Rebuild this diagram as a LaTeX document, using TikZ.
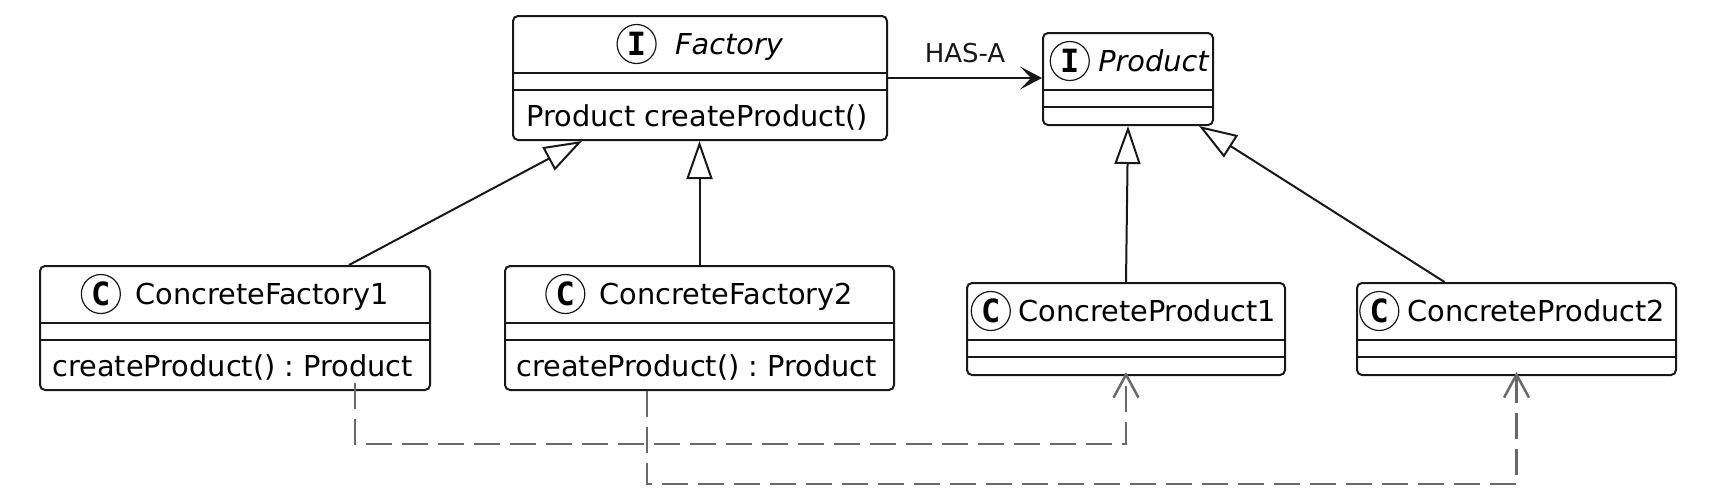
\documentclass[tikz,border=0pt]{standalone}
\usepackage{fontspec}
\setmainfont{DejaVu Sans}
\newfontfamily\spotfont{DejaVu Sans Mono}
\usepackage{tikz}
\usetikzlibrary{positioning,arrows.meta}
\definecolor{umlink}{RGB}{24,24,24}
\definecolor{depgray}{RGB}{105,105,105}
\frenchspacing

\begin{document}
\begin{tikzpicture}[x=0.5pt, y=-0.5pt,
  cls/.style={draw=umlink, line width=1pt, rounded corners=2.5pt, minimum width=#1, minimum height=62pt, inner sep=0pt, anchor=north west},
  cls/.default=195pt,
  slim/.style={cls=#1, minimum height=46pt}, slim/.default=159pt,
  cname/.style={inner sep=0pt, anchor=base, font=\fontsize{14.4}{17}\selectfont},
  iname/.style={cname, font=\fontsize{14.4}{17}\selectfont\itshape},
  spot/.style={circle, draw=umlink, line width=0.6pt, minimum size=19.5pt, inner sep=0pt, font=\spotfont\bfseries\fontsize{16}{16}\selectfont},
  meth/.style={inner sep=0pt, anchor=base west, font=\fontsize{14.4}{17}\selectfont},
  inh/.style={-{Triangle[open, length=19pt, width=13pt]}, line width=1pt, umlink},
  assoc/.style={-{Stealth[length=11pt, width=11.5pt, inset=5.5pt]}, line width=1pt, umlink},
  dep/.style={-{Straight Barb[length=11.5pt, width=12.5pt]}, line width=1.25pt, depgray, dash pattern=on 13pt off 5pt}]
  \useasboundingbox (0,0) rectangle (1723,500);
  % class boxes
  \node[cls=187pt] (factory) at (512,15) {};
  \node[slim=85pt] (product) at (1042,32) {};
  \node[cls] (cf1) at (39,265) {};
  \node[cls=194.5pt] (cf2) at (504,265) {};
  \node[slim] (cp1) at (966,282) {};
  \node[slim=159.5pt] (cp2) at (1356,282) {};
  \foreach \n in {factory, product, cf1, cf2, cp1, cp2} {
    \draw[line width=1pt, umlink] ([yshift=-29pt]\n.north west) -- ([yshift=-29pt]\n.north east);
    \draw[line width=1pt, umlink] ([yshift=-37.5pt]\n.north west) -- ([yshift=-37.5pt]\n.north east);
  }
  % headers
  \node[iname] (factory-name) at ([xshift=14.5pt, yshift=-19.5pt]factory.north) {Factory};
  \node[spot, left=9pt of factory-name.base west, yshift=5pt] (factory-spot) {I};
  \node[iname] (product-name) at ([xshift=12.75pt, yshift=-19.5pt]product.north) {Product};
  \node[spot, left=4pt of product-name.base west, yshift=5pt] (product-spot) {I};
  \node[cname] (cf1-name) at ([xshift=13.5pt, yshift=-19.5pt]cf1.north) {ConcreteFactory1};
  \node[spot, left=7pt of cf1-name.base west, yshift=5pt] (cf1-spot) {C};
  \node[cname] (cf2-name) at ([xshift=13.5pt, yshift=-19.5pt]cf2.north) {ConcreteFactory2};
  \node[spot, left=7pt of cf2-name.base west, yshift=5pt] (cf2-spot) {C};
  \node[cname] (cp1-name) at ([xshift=10.5pt, yshift=-19.5pt]cp1.north) {ConcreteProduct1};
  \node[spot, left=3.5pt of cp1-name.base west, yshift=5pt] (cp1-spot) {C};
  \node[cname] (cp2-name) at ([xshift=10pt, yshift=-19.5pt]cp2.north) {ConcreteProduct2};
  \node[spot, left=4pt of cp2-name.base west, yshift=5pt] (cp2-spot) {C};
  % methods
  \node[meth] (factory-op) at ([xshift=7pt, yshift=7.5pt]factory.south west) {Product createProduct()};
  \node[meth] (cf1-op) at ([xshift=6.5pt, yshift=7.5pt]cf1.south west) {createProduct() : Product};
  \node[meth] (cf2-op) at ([xshift=6pt, yshift=7.5pt]cf2.south west) {createProduct() : Product};
  % relations
  \draw[assoc] (factory.east) -- node[above=7pt, inner sep=0pt, font=\fontsize{13}{15}\selectfont] {HAS-A} (factory.east -| product.west);
  \draw[inh] ([xshift=155pt]cf1.north west) -- ([xshift=35pt]factory.south west);
  \draw[inh] (cf2.north) -- (cf2.north |- factory.south);
  \draw[inh] (cp1.north) -- (product.south);
  \draw[inh] ([xshift=-36pt]cp2.north) -- ([xshift=-7.5pt]product.south east);
  \draw[dep] ([xshift=158pt, yshift=4pt]cf1.south west) -- ++(0,61) -| ([yshift=2pt]cp1.south);
  \draw[dep] ([xshift=71.5pt]cf2.south west) -- ++(0,93) -| ([yshift=2pt]cp2.south);
\end{tikzpicture}
\end{document}
